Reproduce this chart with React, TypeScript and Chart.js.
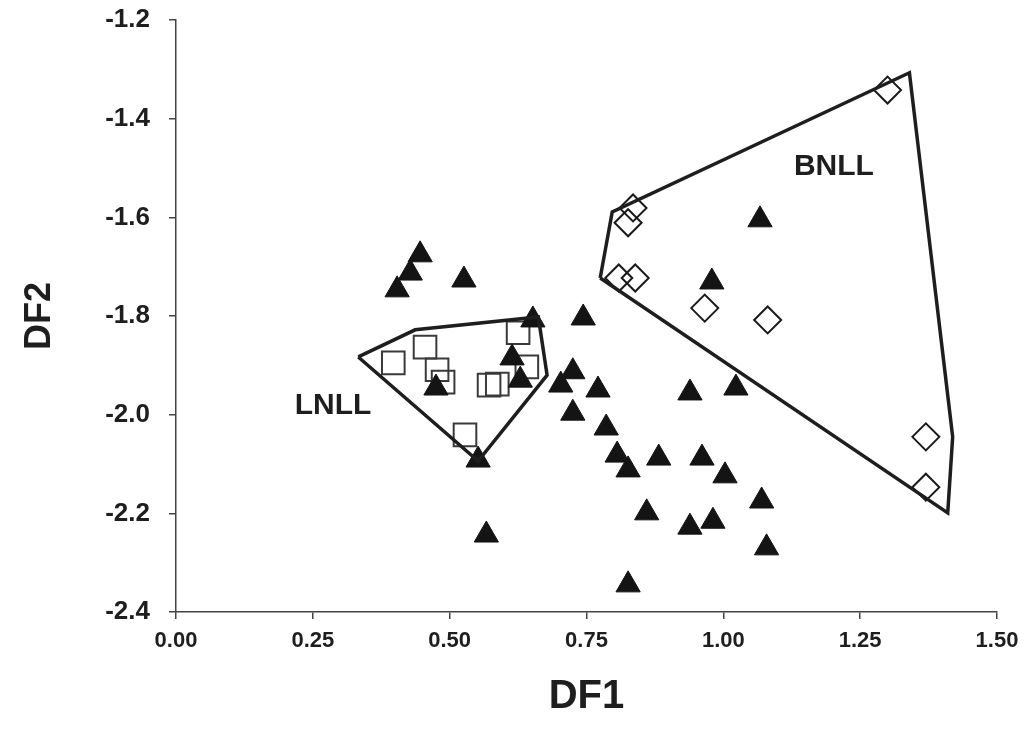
import React, { useEffect, useRef } from 'react';
import { Chart, registerables } from 'chart.js';

Chart.register(...registerables);

// Filled triangles (unassigned fish)
const triangleX = [0.446, 0.428, 0.404, 0.526, 0.652, 0.744, 0.614, 0.629, 0.475, 0.552, 0.725, 0.703, 0.771, 0.725, 0.786, 0.806, 0.826, 0.882, 0.961, 1.003, 0.939, 1.023, 1.070, 0.860, 0.939, 0.981, 1.079, 0.826, 1.067, 0.979, 0.567];
const triangleY = [-1.676, -1.713, -1.747, -1.727, -1.808, -1.804, -1.885, -1.930, -1.946, -2.092, -1.913, -1.940, -1.950, -1.997, -2.027, -2.082, -2.112, -2.088, -2.088, -2.124, -1.956, -1.946, -2.175, -2.199, -2.228, -2.216, -2.270, -2.345, -1.605, -1.731, -2.244];

// Open squares (LNLL)
const squareX = [0.397, 0.455, 0.477, 0.488, 0.572, 0.587, 0.625, 0.641, 0.528];
const squareY = [-1.895, -1.863, -1.909, -1.934, -1.940, -1.938, -1.834, -1.903, -2.041];

// Open diamonds (BNLL)
const diamondX = [1.300, 0.835, 0.826, 0.809, 0.839, 0.966, 1.081, 1.370, 1.370];
const diamondY = [-1.342, -1.581, -1.611, -1.723, -1.723, -1.784, -1.808, -2.045, -2.147];

// Group outlines
const lnllHullX = [0.333, 0.437, 0.662, 0.678, 0.552, 0.333];
const lnllHullY = [-1.883, -1.828, -1.802, -1.920, -2.094, -1.883];
const bnllHullX = [0.775, 0.797, 1.340, 1.419, 1.410, 0.775];
const bnllHullY = [-1.723, -1.589, -1.307, -2.045, -2.199, -1.723];

// Group labels
const groupNames = ['BNLL', 'LNLL'];
const groupLabelX = [1.202, 0.287];
const groupLabelY = [-1.498, -1.982];

// Axis ticks
const xTicks = [0, 0.25, 0.5, 0.75, 1.0, 1.25, 1.5];
const yTicks = [-2.4, -2.2, -2.0, -1.8, -1.6, -1.4, -1.2];

const toPoints = (xs: number[], ys: number[]) => xs.map((x, i) => ({ x, y: ys[i] }));

const FONT = '"Liberation Sans", Arial, sans-serif';
const INK = '#1e1e1e';

const groupLabelPlugin = {
  id: 'groupLabels',
  afterDatasetsDraw(chart: any) {
    const { ctx, scales } = chart;
    ctx.save();
    ctx.font = `bold 30px ${FONT}`;
    ctx.fillStyle = INK;
    ctx.textAlign = 'center';
    ctx.textBaseline = 'middle';
    groupNames.forEach((name, i) => {
      ctx.fillText(name, scales.x.getPixelForValue(groupLabelX[i]), scales.y.getPixelForValue(groupLabelY[i]));
    });
    ctx.restore();
  },
};

export default function App() {
  const canvasRef = useRef<HTMLCanvasElement | null>(null);

  useEffect(() => {
    const canvas = canvasRef.current;
    if (!canvas) return;
    const chart = new Chart(canvas, {
      type: 'scatter',
      data: {
        datasets: [
          {
            label: 'LNLL outline',
            data: toPoints(lnllHullX, lnllHullY),
            showLine: true,
            borderColor: INK,
            borderWidth: 3.5,
            pointRadius: 0,
            fill: false,
            tension: 0,
          },
          {
            label: 'BNLL outline',
            data: toPoints(bnllHullX, bnllHullY),
            showLine: true,
            borderColor: INK,
            borderWidth: 3.5,
            pointRadius: 0,
            fill: false,
            tension: 0,
          },
          {
            label: 'Unassigned',
            data: toPoints(triangleX, triangleY),
            pointStyle: 'triangle',
            pointRadius: 14,
            backgroundColor: '#141414',
            borderColor: '#141414',
            borderWidth: 1,
          },
          {
            label: 'LNLL',
            data: toPoints(squareX, squareY),
            pointStyle: 'rect',
            pointRadius: 16,
            backgroundColor: 'rgba(0,0,0,0)',
            borderColor: '#3a3a3a',
            borderWidth: 2,
          },
          {
            label: 'BNLL',
            data: toPoints(diamondX, diamondY),
            pointStyle: 'rectRot',
            pointRadius: 13.5,
            backgroundColor: 'rgba(0,0,0,0)',
            borderColor: '#1a1a1a',
            borderWidth: 2,
          },
        ],
      },
      options: {
        animation: false,
        responsive: false,
        devicePixelRatio: 1,
        layout: { padding: { left: 0, right: 39, top: 20, bottom: 0 } },
        plugins: { legend: { display: false }, tooltip: { enabled: false } },
        scales: {
          x: {
            type: 'linear',
            min: 0,
            max: 1.5,
            afterBuildTicks: (s: any) => {
              s.ticks = xTicks.map((v) => ({ value: v }));
            },
            afterFit: (s: any) => {
              s.height = 121;
              s.paddingLeft = 0;
              s.paddingRight = 0;
            },
            grid: { drawOnChartArea: false, drawTicks: true, tickLength: 7, color: '#444', lineWidth: 1.5 },
            border: { display: true, color: '#444', width: 1.5 },
            ticks: {
              padding: 9,
              color: INK,
              font: { family: FONT, size: 22, weight: 'bold' },
              maxRotation: 0,
              callback: (v: any) => Number(v).toFixed(2),
            },
            title: {
              display: true,
              text: 'DF1',
              color: INK,
              font: { family: FONT, size: 40, weight: 'bold', lineHeight: 1 },
              padding: { top: 0, bottom: 16 },
            },
          },
          y: {
            type: 'linear',
            min: -2.4,
            max: -1.2,
            afterBuildTicks: (s: any) => {
              s.ticks = yTicks.map((v) => ({ value: v }));
            },
            afterFit: (s: any) => {
              s.width = 176;
              s.paddingTop = 0;
              s.paddingBottom = 0;
            },
            grid: { drawOnChartArea: false, drawTicks: true, tickLength: 7, color: '#444', lineWidth: 1.5 },
            border: { display: true, color: '#444', width: 1.5 },
            ticks: {
              padding: 19,
              color: INK,
              font: { family: FONT, size: 26, weight: 'bold' },
              callback: (v: any) => Number(v).toFixed(1),
            },
            title: {
              display: true,
              text: 'DF2',
              color: INK,
              font: { family: FONT, size: 36, weight: 'bold', lineHeight: 1 },
              padding: { top: 22, bottom: 0 },
            },
          },
        },
      },
      plugins: [groupLabelPlugin],
    } as any);
    return () => chart.destroy();
  }, []);

  return (
    <div style={{ position: 'fixed', left: 0, top: 0, width: 1036, height: 733, background: '#fff' }}>
      <canvas ref={canvasRef} width={1036} height={733} style={{ width: 1036, height: 733, display: 'block' }} />
    </div>
  );
}
